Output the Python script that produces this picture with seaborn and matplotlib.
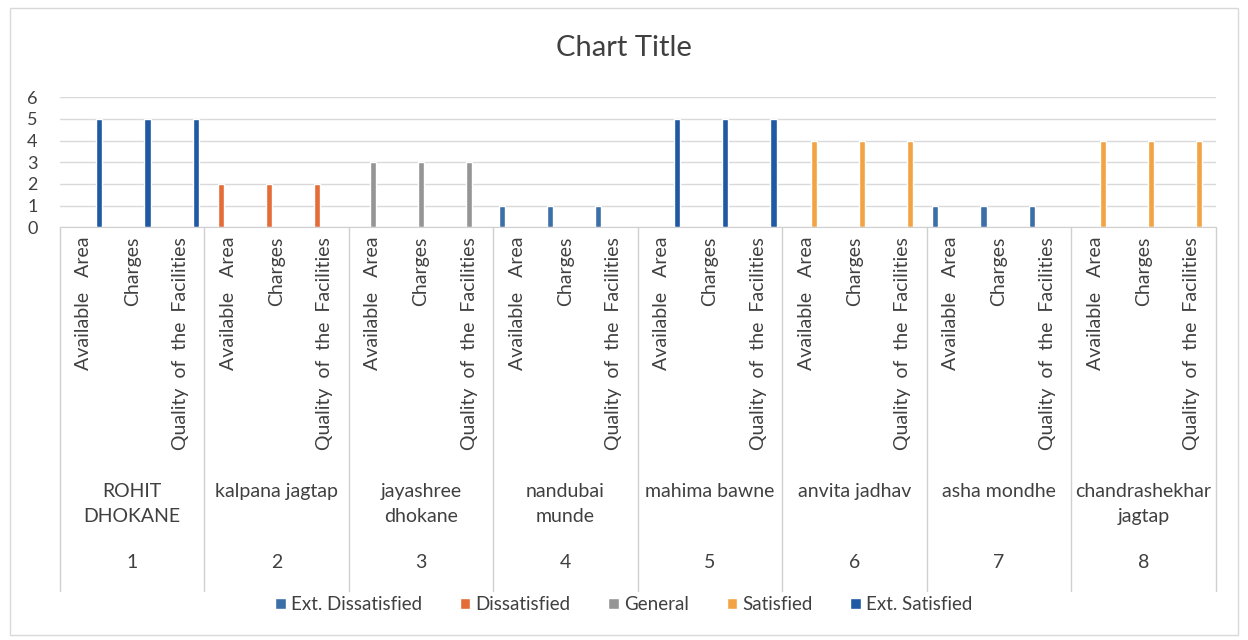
import pandas as pd
import matplotlib.pyplot as plt
import matplotlib.transforms as mtransforms
from matplotlib.patches import Rectangle
import seaborn as sns

# data
people = ["ROHIT\nDHOKANE", "kalpana jagtap", "jayashree\ndhokane", "nandubai\nmunde",
          "mahima bawne", "anvita jadhav", "asha mondhe", "chandrashekhar\njagtap"]
people_ids = ["1", "2", "3", "4", "5", "6", "7", "8"]
items = ["Available   Area", "Charges", "Quality  of  the  Facilities"]
series = ["Ext. Dissatisfied", "Dissatisfied", "General", "Satisfied", "Ext. Satisfied"]

ext_dissatisfied = [0, 0, 0, 1, 0, 0, 1, 0]
dissatisfied = [0, 2, 0, 0, 0, 0, 0, 0]
general = [0, 0, 3, 0, 0, 0, 0, 0]
satisfied = [0, 0, 0, 0, 0, 4, 0, 4]
ext_satisfied = [5, 0, 0, 0, 5, 0, 0, 0]

colors = ["#3C6EA8", "#E36C37", "#959595", "#F2A444", "#1F58A3"]

values = [ext_dissatisfied, dissatisfied, general, satisfied, ext_satisfied]
rows = []
for p in range(len(people)):
    for j, item in enumerate(items):
        for s, name in enumerate(series):
            rows.append({"slot": f"{p}-{j}", "item": item, "series": name,
                         "value": values[s][p]})
df = pd.DataFrame(rows)

sns.set_style("white")
plt.rcParams["font.family"] = ["Lato", "DejaVu Sans"]

fig = plt.figure(figsize=(12.48, 6.4), dpi=100)
ax = fig.add_axes([0.048, 0.645, 0.926, 0.203])

sns.barplot(data=df, x="slot", y="value", hue="series", hue_order=series,
            palette=dict(zip(series, colors)), width=0.8, gap=0.2,
            saturation=1, ax=ax, legend=True)

ax.set_ylim(0, 6)
ax.set_xlim(-0.5, len(people) * len(items) - 0.5)
ax.set_yticks(range(7))
ax.yaxis.grid(True, color="#D9D9D9", linewidth=1)
ax.set_axisbelow(True)
ax.tick_params(axis="y", labelsize=13, pad=16, length=0, colors="#404040")
ax.set_xticks(range(len(people) * len(items)))
ax.set_xticklabels(items * len(people), rotation=90, fontsize=14, color="#404040")
ax.tick_params(axis="x", length=0, pad=7)
ax.set_xlabel("")
ax.set_ylabel("")
for side in ["left", "right", "top"]:
    ax.spines[side].set_visible(False)
ax.spines["bottom"].set_color("#D0D0D0")

trans = mtransforms.blended_transform_factory(ax.transData, ax.transAxes)
for k in range(len(people) + 1):
    xb = k * len(items) - 0.5
    ax.plot([xb, xb], [0, -2.8], transform=trans, color="#D0D0D0",
            linewidth=1, clip_on=False)
for k, (name, pid) in enumerate(zip(people, people_ids)):
    xc = k * len(items) + 1
    ax.text(xc, -1.97, name, transform=trans, ha="center", va="top",
            fontsize=14, color="#404040", linespacing=1.55)
    ax.text(xc, -2.58, pid, transform=trans, ha="center", va="center",
            fontsize=14, color="#404040")

handles, labels = ax.get_legend_handles_labels()
ax.get_legend().remove()
fig.legend(handles, labels, loc="center", bbox_to_anchor=(0.5, 0.055), ncol=5,
           frameon=False, fontsize=13.5, handlelength=0.55, handleheight=0.55,
           handletextpad=0.3, columnspacing=2.0, labelcolor="#404040")

fig.text(0.5, 0.925, "Chart Title", ha="center", va="center", fontsize=21,
         color="#404040")

fig.patches.append(Rectangle((0.008, 0.008), 0.984, 0.98, transform=fig.transFigure,
                             fill=False, edgecolor="#D9D9D9", linewidth=1))

fig.savefig("out.png", dpi=100)
